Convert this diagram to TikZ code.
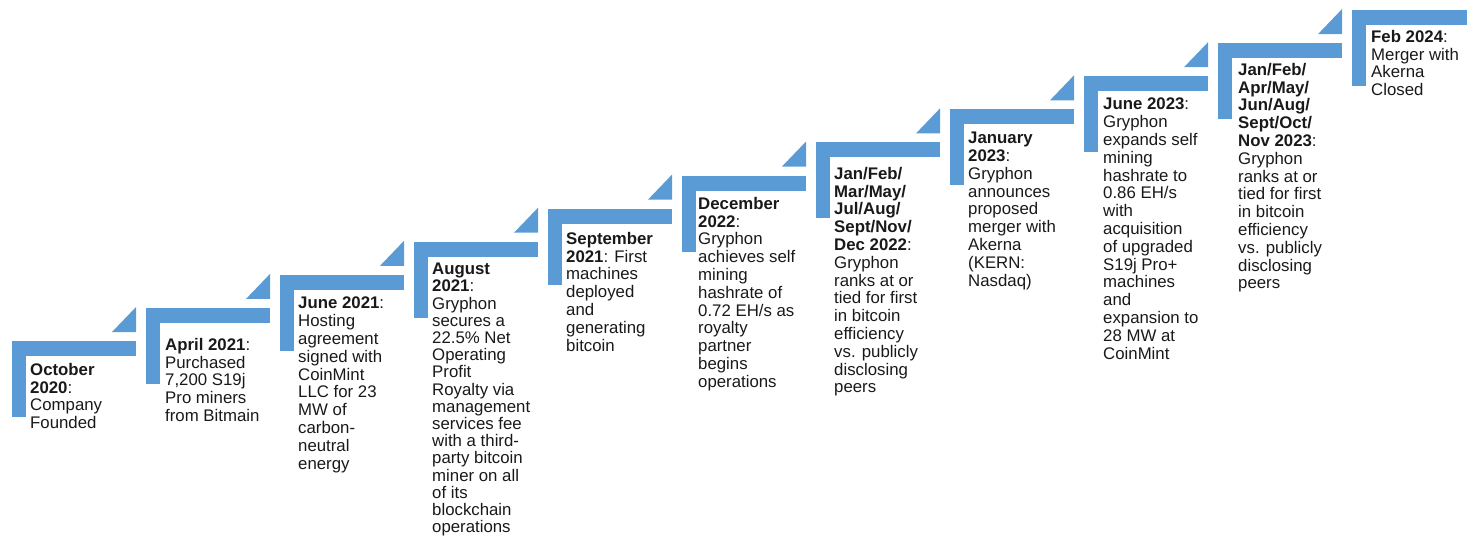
\documentclass[tikz,border=0pt]{standalone}
\usepackage{fontspec}
\setmainfont{Liberation Sans}
\definecolor{stepblue}{RGB}{91,155,213}
\definecolor{txtcol}{RGB}{25,25,25}
\begin{document}
\begin{tikzpicture}[x=1pt,y=-1pt,
  txt/.style={anchor=north west, inner sep=0pt, align=left,
    font=\fontsize{16.8}{17.8}\selectfont, text=txtcol},
  tighttxt/.style={txt, font=\fontsize{16.8}{17.2}\selectfont}]
\useasboundingbox (0,0) rectangle (1467,539);
\clip (0,0) rectangle (1467,539);
\foreach \i in {0,...,10} {
  \pgfmathsetmacro\L{12+134*\i}
  \pgfmathsetmacro\T{341-33.1*\i}
  \fill[stepblue] (\L,\T) rectangle ++(124,15);
  \fill[stepblue] (\L,\T) rectangle ++(13.5,76);
}
\foreach \i in {0,...,9} {
  \pgfmathsetmacro\L{12+134*\i}
  \pgfmathsetmacro\T{341-33.1*\i}
  \fill[stepblue] (\L+100,\T-9) -- (\L+124,\T-9) -- (\L+124,\T-34) -- cycle;
}
\node[txt] (t1) at (30,363) {\textbf{October}\\\textbf{2020}:\\Company\\Founded};
\node[txt] (t2) at (165,338) {\textbf{April 2021}:\\Purchased\\7,200 S19j\\Pro miners\\from Bitmain};
\node[txt] (t3) at (298,297) {\textbf{June 2021}:\\Hosting\\agreement\\signed with\\CoinMint\\LLC for 23\\MW of\\carbon-\\neutral\\energy};
\node[tighttxt] (t4) at (432,263) {\textbf{August}\\\textbf{2021}:\\Gryphon\\secures a\\22.5\% Net\\Operating\\Profit\\Royalty via\\management\\services fee\\with a third-\\party bitcoin\\miner on all\\of its\\blockchain\\operations};
\node[txt] (t5) at (566,232) {\textbf{September}\\\textbf{2021}: First\\machines\\deployed\\and\\generating\\bitcoin};
\node[txt] (t6) at (698,197) {\textbf{December}\\\textbf{2022}:\\Gryphon\\achieves self\\mining\\hashrate of\\0.72 EH/s as\\royalty\\partner\\begins\\operations};
\node[txt] (t7) at (834,167) {\textbf{Jan/Feb/}\\\textbf{Mar/May/}\\\textbf{Jul/Aug/}\\\textbf{Sept/Nov/}\\\textbf{Dec 2022}:\\Gryphon\\ranks at or\\tied for first\\in bitcoin\\efficiency\\vs. publicly\\disclosing\\peers};
\node[txt] (t8) at (968,132) {\textbf{January}\\\textbf{2023}:\\Gryphon\\announces\\proposed\\merger with\\Akerna\\(KERN:\\Nasdaq)};
\node[txt] (t9) at (1103,98) {\textbf{June 2023}:\\Gryphon\\expands self\\mining\\hashrate to\\0.86 EH/s\\with\\acquisition\\of upgraded\\S19j Pro+\\machines\\and\\expansion to\\28 MW at\\CoinMint};
\node[txt] (t10) at (1238,63) {\textbf{Jan/Feb/}\\\textbf{Apr/May/}\\\textbf{Jun/Aug/}\\\textbf{Sept/Oct/}\\\textbf{Nov 2023}:\\Gryphon\\ranks at or\\tied for first\\in bitcoin\\efficiency\\vs. publicly\\disclosing\\peers};
\node[txt] (t11) at (1371,30) {\textbf{Feb 2024}:\\Merger with\\Akerna\\Closed};
\end{tikzpicture}
\end{document}
